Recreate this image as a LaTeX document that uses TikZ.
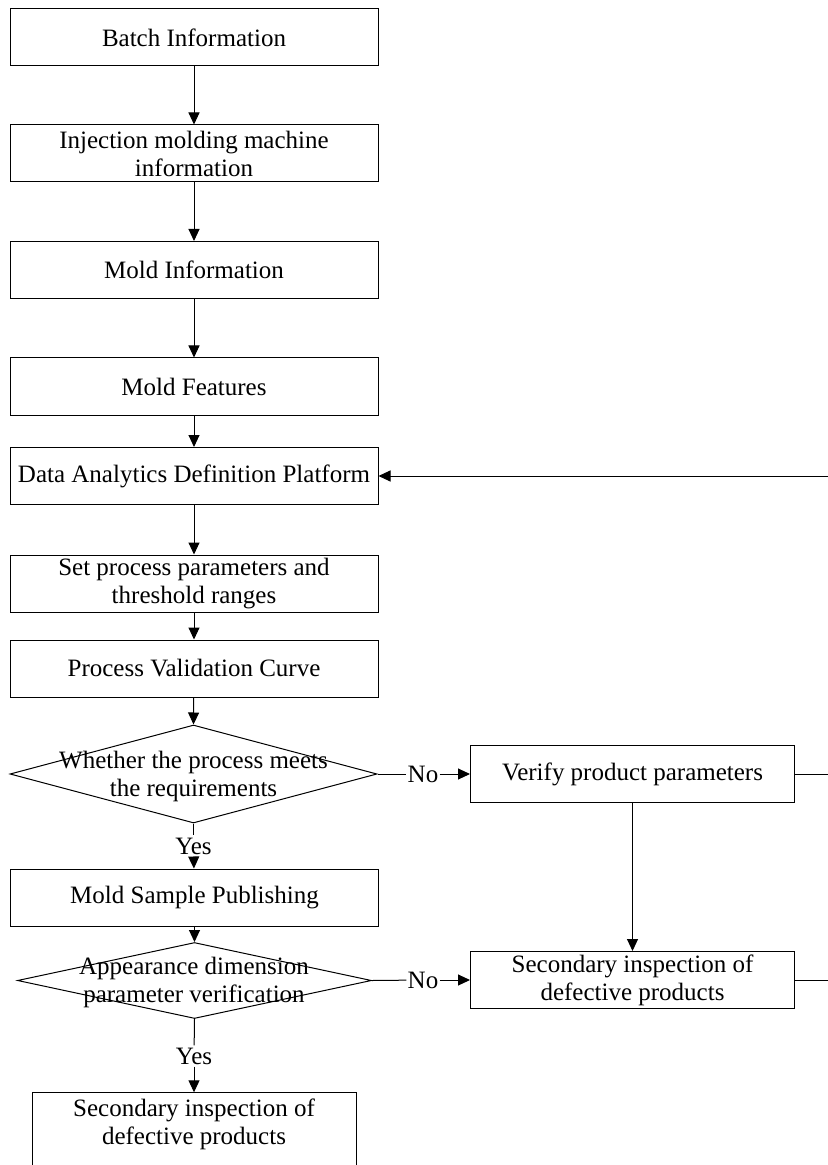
\documentclass[tikz,border=0pt]{standalone}
\usepackage{fontspec}
\setmainfont{Liberation Serif}
\usetikzlibrary{arrows.meta,shapes.geometric}

\begin{document}
\begin{tikzpicture}[x=0.5pt,y=-0.5pt,
    every node/.style={font=\fontsize{12.5}{14}\selectfont},
    box/.style={draw,line width=0.5pt,minimum width=184pt,minimum height=28.5pt,inner sep=1pt,align=center},
    decide/.style={draw,line width=0.5pt,diamond,inner sep=0pt},
    tag/.style={inner xsep=0.5pt,inner ysep=1pt},
    arr/.style={line width=0.5pt,-{Triangle[length=6pt,width=5.5pt]}},
    lin/.style={line width=0.5pt}]
        \useasboundingbox (0,0) rectangle (828,1165);
        \clip (0,0) rectangle (828,1165);

        \node[box] (batch) at (194,37.5) {Batch Information};
        \node[box] (inject) at (194,153.5) {Injection molding machine\\information};
        \node[box] (moldinfo) at (194,270) {Mold Information};
        \node[box] (feat) at (194,386.5) {Mold Features};
        \node[box] (dap) at (194,476) {Data Analytics Definition Platform};
        \node[box] (setp) at (194,583.5) {Set process parameters and\\threshold ranges};
        \node[box] (pvc) at (194,668.5) {Process Validation Curve};

        \node[decide,minimum width=183.5pt,minimum height=49pt] (d1) at (193.5,774) {};
        \node[align=center] (d1t) at (193.5,776) {Whether the process meets\\the requirements};
        \node[tag] (yes1) at (193.5,846) {Yes};
        \node[box] (msp) at (194.5,897.5) {Mold Sample Publishing};

        \node[decide,minimum width=177pt,minimum height=38pt] (d2) at (194.5,980.5) {};
        \node[align=center] (d2t) at (194,982) {Appearance dimension\\parameter verification};
        \node[tag] (yes2) at (194,1056) {Yes};
        \node[box,minimum width=162pt,anchor=north,inner ysep=3pt] (sec) at (194,1092.3)
        {Secondary inspection of\\defective products\rule[-20pt]{0pt}{0pt}};

        \node[box,minimum width=162pt] (verify) at (632.5,774) {Verify product parameters};
        \node[box,minimum width=162pt] (secd) at (632.5,980) {Secondary inspection of\\defective products};
        \node[tag] (no1) at (423,774) {No};
        \node[tag] (no2) at (423,980) {No};
        \coordinate (loop) at (840,476);

        \draw[arr] (batch) -- (inject);
        \draw[arr] (inject) -- (moldinfo);
        \draw[arr] (moldinfo) -- (feat);
        \draw[arr] (feat) -- (dap);
        \draw[arr] (dap) -- (setp);
        \draw[arr] (setp) -- (pvc);
        \draw[arr] (pvc) -- (d1.north);
        \draw[lin] (d1.south) -- (yes1);
        \draw[arr] (yes1) -- (msp);
        \draw[arr] (msp) -- (d2.north);
        \draw[lin] (d2.south) -- (yes2);
        \draw[arr] (yes2) -- (sec);

        \draw[lin] (d1.east) -- (no1);
        \draw[arr] (no1) -- (verify);
        \draw[lin] (d2.east) -- (no2);
        \draw[arr] (no2) -- (secd);
        \draw[arr] (verify) -- (secd);
        \draw[lin] (verify.east) -- (verify.east -| loop);
        \draw[arr] (secd.east) -| (loop) -- (dap.east);

      \end{tikzpicture}
\end{document}
